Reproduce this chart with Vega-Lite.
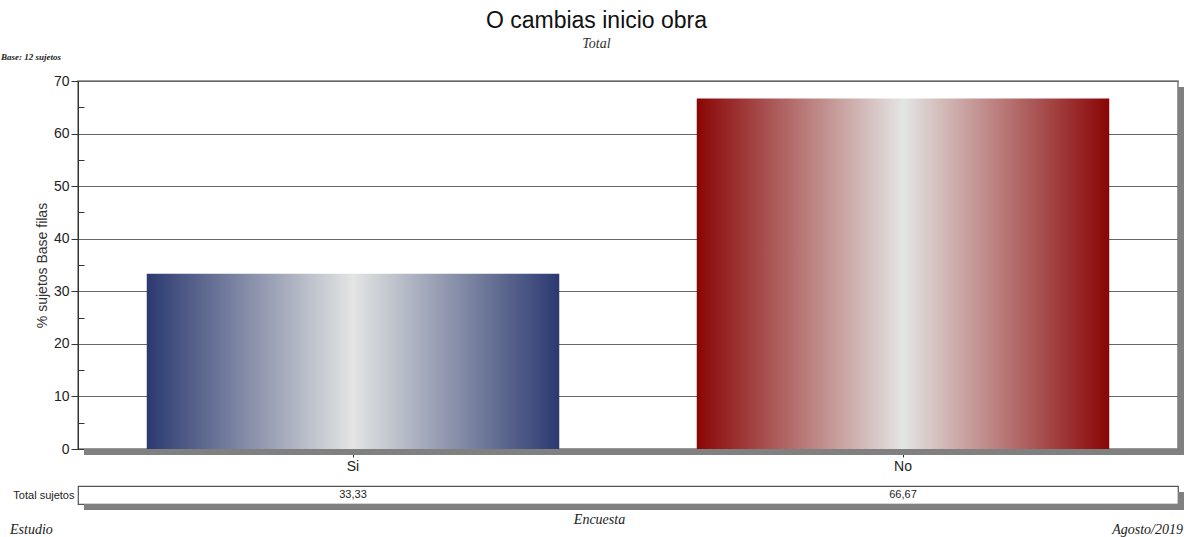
{
  "$schema": "https://vega.github.io/schema/vega-lite/v6.json",
  "padding": {"left": 0, "top": 10, "right": 0, "bottom": 0},
  "background": "white",
  "bounds": "flush",
  "spacing": 37,
  "title": {
    "text": "O cambias inicio obra",
    "subtitle": "Total",
    "anchor": "middle",
    "dx": 4,
    "font": "Liberation Sans",
    "fontSize": 23,
    "fontWeight": "normal",
    "color": "#111111",
    "subtitleFont": "Liberation Serif",
    "subtitleFontSize": 14,
    "subtitleFontStyle": "italic",
    "subtitleColor": "#333333",
    "subtitlePadding": 4,
    "offset": 1
  },
  "datasets": {
    "resp": [
      {"cat": "Si", "pct": 33.33, "label": "33,33", "row": "Total sujetos"},
      {"cat": "No", "pct": 66.67, "label": "66,67", "row": "Total sujetos"}
    ],
    "foot": [
      {"t": "Estudio", "pos": 0},
      {"t": "Agosto/2019", "pos": 1}
    ],
    "one": [{"k": 1}]
  },
  "config": {
    "font": "Liberation Sans",
    "axis": {"labelFont": "Liberation Sans", "titleFont": "Liberation Sans"}
  },
  "vconcat": [
    {
      "width": 1100,
      "height": 368,
      "title": {
        "text": "Base: 12 sujetos",
        "anchor": "start",
        "frame": "group",
        "dx": -77,
        "offset": 12,
        "font": "Liberation Serif",
        "fontSize": 9,
        "fontStyle": "italic",
        "fontWeight": "bold",
        "color": "#222222"
      },
      "view": {"stroke": "#7a7a7a", "strokeWidth": 1.5, "fill": "white"},
      "layer": [
        {
          "data": {"name": "one"},
          "mark": {"type": "rect", "color": "#808080", "x2Offset": 6, "yOffset": 6, "y2Offset": 6},
          "encoding": {"x": {"value": "width"}, "x2": {"value": "width"}, "y": {"value": 0}, "y2": {"value": "height"}}
        },
        {
          "data": {"name": "one"},
          "mark": {"type": "rect", "color": "#808080", "xOffset": 6, "x2Offset": 6, "y2Offset": 6},
          "encoding": {"x": {"value": 0}, "x2": {"value": "width"}, "y": {"value": "height"}, "y2": {"value": "height"}}
        },
        {
          "data": {"name": "resp"},
          "mark": {"type": "bar"},
          "encoding": {
            "x": {
              "field": "cat",
              "type": "nominal",
              "scale": {"domain": ["Si", "No"], "paddingInner": 0.25, "paddingOuter": 0.125},
              "axis": {
                "title": null,
                "labelAngle": 0,
                "labelFontSize": 14,
                "labelColor": "#222222",
                "tickSize": 8,
                "tickColor": "#333333",
                "domainColor": "#333333",
                "labelPadding": 2,
                "grid": false
              }
            },
            "y": {
              "field": "pct",
              "type": "quantitative",
              "scale": {"domain": [0, 70], "nice": false},
              "axis": {
                "values": [0, 5, 10, 15, 20, 25, 30, 35, 40, 45, 50, 55, 60, 65, 70],
                "labelExpr": "datum.value % 10 === 0 ? datum.label : ''",
                "tickSize": {"condition": {"test": "datum.value % 10 !== 0", "value": -6}, "value": 7},
                "grid": true,
                "gridColor": "#666666",
                "gridOpacity": {"condition": {"test": "datum.value % 10 !== 0", "value": 0}, "value": 1},
                "tickColor": "#333333",
                "domainColor": "#333333",
                "labelFontSize": 14,
                "labelColor": "#222222",
                "labelPadding": 2,
                "title": "% sujetos Base filas",
                "titleFontSize": 14,
                "titleFontWeight": "normal",
                "titleColor": "#333333",
                "titlePadding": 4
              }
            },
            "color": {
              "condition": {
                "test": "datum.cat === 'Si'",
                "value": {
                  "gradient": "linear", "x1": 0, "x2": 1, "y1": 0, "y2": 0,
                  "stops": [
                    {"offset": 0, "color": "#2b3970"},
                    {"offset": 0.5, "color": "#e3e5e3"},
                    {"offset": 1, "color": "#2b3970"}
                  ]
                }
              },
              "value": {
                "gradient": "linear", "x1": 0, "x2": 1, "y1": 0, "y2": 0,
                "stops": [
                  {"offset": 0, "color": "#8a0505"},
                  {"offset": 0.5, "color": "#e3e5e3"},
                  {"offset": 1, "color": "#8a0505"}
                ]
              }
            }
          }
        }
      ]
    },
    {
      "bounds": "flush",
      "spacing": 21,
      "vconcat": [
        {
          "width": 1100,
          "height": 18,
          "view": {"stroke": "#555555", "strokeWidth": 1.2, "fill": "white"},
          "layer": [
            {
              "data": {"name": "one"},
              "mark": {"type": "rect", "color": "#808080", "x2Offset": 6, "yOffset": 6, "y2Offset": 6},
              "encoding": {"x": {"value": "width"}, "x2": {"value": "width"}, "y": {"value": 0}, "y2": {"value": "height"}}
            },
            {
              "data": {"name": "one"},
              "mark": {"type": "rect", "color": "#808080", "xOffset": 6, "x2Offset": 6, "y2Offset": 6},
              "encoding": {"x": {"value": 0}, "x2": {"value": "width"}, "y": {"value": "height"}, "y2": {"value": "height"}}
            },
            {
              "data": {"name": "resp"},
              "mark": {"type": "text", "font": "Liberation Sans", "fontSize": 11, "color": "#222222"},
              "encoding": {
                "x": {
                  "field": "cat",
                  "type": "nominal",
                  "scale": {"domain": ["Si", "No"], "paddingInner": 0.25, "paddingOuter": 0.125},
                  "axis": {
                    "title": "Encuesta",
                    "labels": false,
                    "ticks": false,
                    "domain": false,
                    "grid": false,
                    "titleFont": "Liberation Serif",
                    "titleFontStyle": "italic",
                    "titleFontSize": 14,
                    "titleFontWeight": "normal",
                    "titleColor": "#222222",
                    "titlePadding": 8,
                    "titleX": 521
                  }
                },
                "y": {
                  "field": "row",
                  "type": "nominal",
                  "axis": {
                    "title": null,
                    "ticks": false,
                    "domain": false,
                    "grid": false,
                    "labelFontSize": 11,
                    "labelColor": "#222222",
                    "labelPadding": 4
                  }
                },
                "text": {"field": "label"}
              }
            }
          ]
        },
        {
          "width": 1100,
          "height": 10,
          "view": {"stroke": null},
          "data": {"name": "foot"},
          "layer": [
            {
              "transform": [{"filter": "datum.pos === 0"}],
              "mark": {"type": "text", "align": "left", "baseline": "middle", "dx": -68, "font": "Liberation Serif", "fontStyle": "italic", "fontSize": 14, "color": "#222222"},
              "encoding": {
                "x": {"field": "pos", "type": "quantitative", "scale": {"domain": [0, 1]}, "axis": null},
                "text": {"field": "t"}
              }
            },
            {
              "transform": [{"filter": "datum.pos === 1"}],
              "mark": {"type": "text", "align": "right", "baseline": "middle", "dx": 5, "font": "Liberation Serif", "fontStyle": "italic", "fontSize": 14, "color": "#222222"},
              "encoding": {
                "x": {"field": "pos", "type": "quantitative", "scale": {"domain": [0, 1]}, "axis": null},
                "text": {"field": "t"}
              }
            }
          ]
        }
      ]
    }
  ]
}
